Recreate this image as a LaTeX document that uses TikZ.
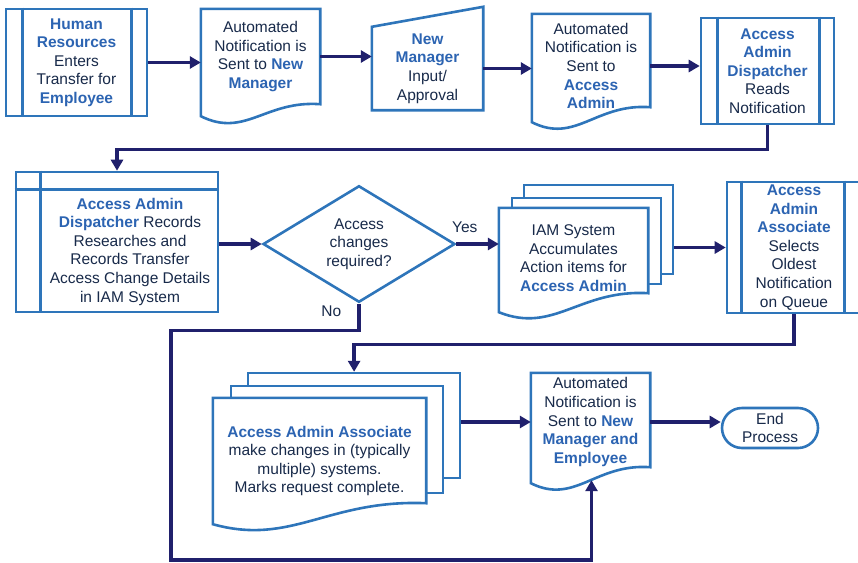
\documentclass[tikz,border=0pt]{standalone}
\usepackage{fontspec}
\setmainfont{Liberation Sans}
\usetikzlibrary{arrows.meta, positioning, calc, shapes.geometric, backgrounds}
\definecolor{boxblue}{RGB}{46,117,186}
\definecolor{flownavy}{RGB}{32,32,108}
\definecolor{ink}{RGB}{24,42,74}
\definecolor{kwblue}{RGB}{44,100,178}
\newcommand{\kw}[1]{\textbf{\color{kwblue}#1}}
% document outline: node, rise of the right end, drop of the left end
\newcommand{\docpath}[3]{%
  (#1.north west) -- (#1.north east) -- ($(#1.south east)+(0,-#2)$)
  .. controls ($(#1.south east)!0.46!(#1.south west)+(0,-#2-4)$)
  and ($(#1.south east)!0.63!(#1.south west)+(0,#3+22)$)
  .. ($(#1.south west)+(0,#3)$) -- cycle}
\tikzset{
>={Triangle[length=11pt,width=12pt]}, % filled arrow heads
txt/.style={inner sep=0pt, align=center, text=ink, font=\fontsize{15.5}{18.6}\selectfont}, % text only, outline drawn apart
proc/.style={txt, draw=boxblue, line width=2.6pt, fill=white}, % plain boxes
outline/.style={draw=boxblue, line width=2.6pt, fill=white},
sheet/.style={outline, inner sep=0pt, anchor=north west}, % pages behind a stacked document
flow/.style={->, draw=flownavy, line width=3.6pt},
lbl/.style={inner sep=0pt, text=ink, font=\fontsize{15.5}{18.6}\selectfont},
}
\begin{document}
\begin{tikzpicture}[x=1pt, y=-1pt]
\useasboundingbox (0,0) rectangle (858,562);

\node[proc, minimum width=141, minimum height=107] (hr) at (76.5,62.5)
  {\kw{Human}\\ \kw{Resources}\\ Enters\\ Transfer for\\ \kw{Employee}};
\node[txt, minimum width=119, minimum height=95] (doc1) at (260.5,56.5)
  {Automated\\ Notification is\\ Sent to \kw{New}\\ \kw{Manager}};
\node[txt, minimum width=111, minimum height=83] (mi) at (427.5,68.5)
  {\kw{New}\\ \kw{Manager}\\ Input/\\ Approval};
\node[txt, minimum width=118, minimum height=104] (doc2) at (591,66)
  {Automated\\ Notification is\\ Sent to\\ \kw{Access}\\ \kw{Admin}};
\node[proc, minimum width=133, minimum height=106] (disp) at (767.5,71)
  {\kw{Access}\\ \kw{Admin}\\ \kw{Dispatcher}\\ Reads\\ Notification};

\node[proc, minimum width=202, minimum height=140] (recframe) at (117,242) {};
\node[txt] (rec) at (130,251.5)
  {\kw{Access Admin}\\ \kw{Dispatcher} Records\\ Researches and\\ Records Transfer\\ Access Change Details\\ in IAM System};
\node[proc, shape=diamond, minimum width=192, minimum height=106] (dec) at (359,244)
  {Access\\ changes\\ required?};
\node[txt, minimum width=149, minimum height=100] (iam) at (573.5,258)
  {IAM System\\ Accumulates\\ Action items for\\ \kw{Access Admin}};
\node[proc, minimum width=134, minimum height=131] (assoc) at (794,247.5)
  {\kw{Access}\\ \kw{Admin}\\ \kw{Associate}\\ Selects\\ Oldest\\ Notification\\ on Queue};

\node[txt, minimum width=213, minimum height=126] (act) at (319.5,461)
  {\kw{Access Admin Associate}\\ make changes in (typically\\ multiple) systems.\\ Marks request complete.};
\node[txt, minimum width=119, minimum height=98] (doc3) at (590.5,422)
  {Automated\\ Notification is\\ Sent to \kw{New}\\ \kw{Manager and}\\ \kw{Employee}};
\node[proc, rounded corners=20pt, minimum width=96, minimum height=40] (endp) at (770,428)
  {End\\ Process};

\begin{scope}[on background layer]
  \draw[outline] \docpath{doc1}{0}{12};
  \draw[outline] (mi.south west) -- (mi.north west) -- ($(mi.north east)+(0,-20)$) -- (mi.south east) -- cycle;
  \draw[outline] \docpath{doc2}{11}{4};
  \node[sheet, minimum width=149, minimum height=89] (iamB) at ($(iam.north west)+(24,-24)$) {};
  \node[sheet, minimum width=149, minimum height=86] (iamM) at ($(iam.north west)+(12,-11)$) {};
  \draw[outline] \docpath{iam}{15}{4};
  \node[sheet, minimum width=212, minimum height=105] (actB) at ($(act.north west)+(34,-26)$) {};
  \node[sheet, minimum width=212, minimum height=107] (actM) at ($(act.north west)+(17,-13)$) {};
  \draw[outline] \docpath{act}{21}{0};
  \draw[outline] \docpath{doc3}{4}{12};
\end{scope}

\draw[outline] ($(hr.north west)+(18,0)$) -- ($(hr.south west)+(18,0)$);
\draw[outline] ($(hr.north east)+(-17,0)$) -- ($(hr.south east)+(-17,0)$);
\draw[outline] ($(disp.north west)+(18,0)$) -- ($(disp.south west)+(18,0)$);
\draw[outline] ($(disp.north east)+(-16,0)$) -- ($(disp.south east)+(-16,0)$);
\draw[outline] ($(assoc.north west)+(16,0)$) -- ($(assoc.south west)+(16,0)$);
\draw[outline] ($(assoc.north east)+(-18,0)$) -- ($(assoc.south east)+(-18,0)$);
\draw[outline] ($(recframe.north west)+(26,0)$) -- ($(recframe.south west)+(26,0)$);
\draw[outline] ($(recframe.north west)+(0,19)$) -- ($(recframe.north east)+(0,19)$);

\coordinate (loop) at (171,560);

\draw[flow] (hr.east) -- (hr.east -| doc1.west);
\draw[flow] (doc1.east) -- (doc1.east -| mi.west);
\draw[flow] (mi.east) -- (mi.east -| doc2.west);
\draw[flow] (doc2.east) -- (doc2.east -| disp.west);
\draw[flow] (disp.south) -- ++(0,24) -| (recframe.north);
\draw[flow] (recframe.east |- dec.west) -- (dec.west);
\draw[flow] (dec.east) -- node[lbl, pos=0.2, above=10pt] (yes) {Yes} (dec.east -| iam.west);
\draw[flow] (iamB.east |- assoc.west) -- (assoc.west);
\draw[flow] (assoc.south) -- ++(0,30) -| (actB.north);
\draw[flow] (actB.east |- doc3.west) -- (doc3.west);
\draw[flow] (doc3.east) -- (doc3.east -| endp.west);
\draw[flow] (dec.south) -- node[lbl, pos=0.3, left=16pt] (no) {No} ++(0,27) -| (loop) -| ($(doc3.south)+(1,9)$);
\end{tikzpicture}
\end{document}
